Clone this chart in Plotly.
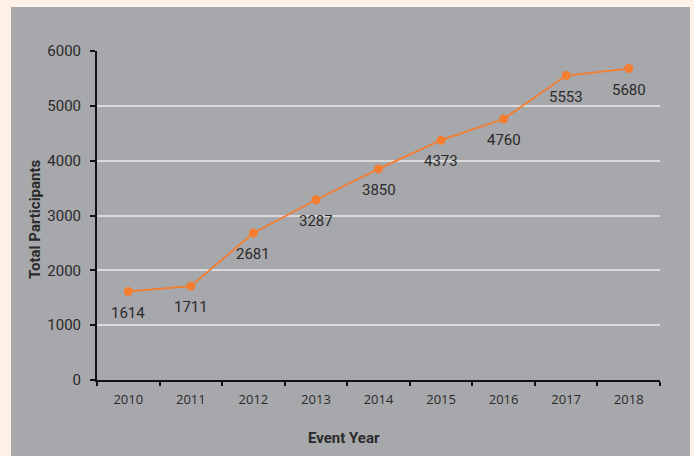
import plotly.graph_objects as go

years = ["2010", "2011", "2012", "2013", "2014", "2015", "2016", "2017", "2018"]
participants = [1614, 1711, 2681, 3287, 3850, 4373, 4760, 5553, 5680]
y_ticks = [0, 1000, 2000, 3000, 4000, 5000, 6000]

ORANGE = "#f47d30"
PANEL = "#a7a8ab"
PEACH = "#fdf0e6"
TEXT = "#2a2a2a"
COND = "Liberation Sans Narrow, Roboto, sans-serif"

W, H = 694, 456
L, R, T, B = 97, 34, 51, 76
pw, ph = W - L - R, H - T - B

def px(x):
    return (x - L) / pw

def py(y):
    return (H - B - y) / ph

fig = go.Figure()
fig.add_trace(go.Scatter(
    x=years, y=participants, mode="lines+markers",
    line=dict(color=ORANGE, width=1.8),
    marker=dict(color=ORANGE, size=9),
    cliponaxis=False, hoverinfo="skip",
))

for i, v in enumerate(participants):
    fig.add_annotation(x=i, y=v, xref="x", yref="y", text=str(v),
                       showarrow=False, yshift=-21, xanchor="center",
                       font=dict(family=COND, size=15, color=TEXT))

fig.add_shape(type="rect", xref="paper", yref="paper",
              x0=px(11), x1=px(690), y0=py(470), y1=py(7),
              fillcolor=PANEL, line=dict(width=0), layer="below")

fig.add_annotation(text="<b>Event Year</b>", xref="paper", yref="paper",
                   x=px(344), y=py(438), showarrow=False,
                   xanchor="center", yanchor="middle",
                   font=dict(family=COND, size=15, color=TEXT))
fig.add_annotation(text="<b>Total Participants</b>", xref="paper", yref="paper",
                   x=px(35), y=py(219), showarrow=False, textangle=-90,
                   xanchor="center", yanchor="middle",
                   font=dict(family=COND, size=15, color=TEXT))

fig.update_layout(
    width=W, height=H,
    margin=dict(l=L, r=R, t=T, b=B, pad=0),
    paper_bgcolor=PEACH, plot_bgcolor="rgba(0,0,0,0)",
    showlegend=False,
    xaxis=dict(type="category", range=[-0.5, 8.5], tickson="boundaries",
               ticks="outside", ticklen=4, tickwidth=2, tickcolor="#111",
               showline=True, linecolor="#111", linewidth=2,
               showgrid=False, zeroline=False, ticklabelstandoff=6,
               tickfont=dict(family="Open Sans, sans-serif", size=13, color=TEXT)),
    yaxis=dict(range=[0, 6000], tickvals=y_ticks,
               ticks="outside", ticklen=5, tickwidth=2, tickcolor="#111",
               showline=True, linecolor="#111", linewidth=2,
               showgrid=True, gridcolor="#dadadc", gridwidth=1.5,
               zeroline=False, ticklabelstandoff=6,
               tickfont=dict(family=COND, size=15, color=TEXT)),
)

fig.write_html("out.html", config={"displayModeBar": False}, post_script=(
    "document.body.style.margin='0';"
    "document.body.style.padding='0';"
    "document.body.style.background='#fdf0e6';"
))
